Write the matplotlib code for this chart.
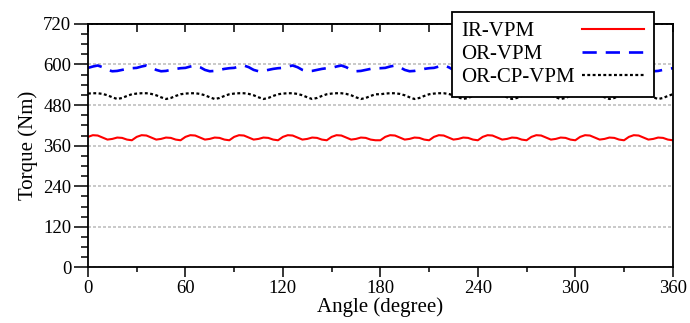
import numpy as np
import matplotlib
matplotlib.use("Agg")
import matplotlib.pyplot as plt
from matplotlib.ticker import MultipleLocator

# ------------------------------------------------------------
# 1. DATOS (paso de 3 grados)
# ------------------------------------------------------------
angulo = np.arange(0, 361, 3)

par_ir_vpm = [
    386, 391, 390, 384, 378, 380, 384, 383, 378, 376,
    386, 391, 390, 384, 378, 380, 384, 383, 378, 376,
    386, 391, 390, 384, 378, 380, 384, 383, 378, 376,
    386, 391, 390, 384, 378, 380, 384, 383, 378, 376,
    386, 391, 390, 384, 378, 380, 384, 383, 378, 376,
    386, 391, 390, 384, 378, 380, 384, 383, 378, 376,
    376, 386, 391, 390, 384, 378, 380, 384, 383, 378,
    376, 386, 391, 390, 384, 378, 380, 384, 383, 378,
    376, 386, 391, 390, 384, 378, 380, 384, 383, 378,
    376, 386, 391, 390, 384, 378, 380, 384, 383, 378,
    376, 386, 391, 390, 384, 378, 380, 384, 383, 378,
    376, 386, 391, 390, 384, 378, 380, 384, 383, 378,
    376,
]

par_or_vpm = [
    590, 594, 597, 592, 584, 580, 581, 584, 587, 589,
    590, 594, 597, 592, 584, 580, 581, 584, 587, 589,
    590, 594, 597, 592, 584, 580, 581, 584, 587, 589,
    590, 594, 597, 592, 584, 580, 581, 584, 587, 589,
    590, 594, 597, 592, 584, 580, 581, 584, 587, 589,
    590, 594, 597, 592, 584, 580, 581, 584, 587, 589,
    589, 590, 594, 597, 592, 584, 580, 581, 584, 587,
    589, 590, 594, 597, 592, 584, 580, 581, 584, 587,
    589, 590, 594, 597, 592, 584, 580, 581, 584, 587,
    589, 590, 594, 597, 592, 584, 580, 581, 584, 587,
    589, 590, 594, 597, 592, 584, 580, 581, 584, 587,
    589, 590, 594, 597, 592, 584, 580, 581, 584, 587,
    589,
]

par_or_cp_vpm = [
    514, 515, 515, 513, 509, 503, 498, 501, 507, 512,
    514, 515, 515, 513, 509, 503, 498, 501, 507, 512,
    514, 515, 515, 513, 509, 503, 498, 501, 507, 512,
    514, 515, 515, 513, 509, 503, 498, 501, 507, 512,
    514, 515, 515, 513, 509, 503, 498, 501, 507, 512,
    514, 515, 515, 513, 509, 503, 498, 501, 507, 512,
    512, 514, 515, 515, 513, 509, 503, 498, 501, 507,
    512, 514, 515, 515, 513, 509, 503, 498, 501, 507,
    512, 514, 515, 515, 513, 509, 503, 498, 501, 507,
    512, 514, 515, 515, 513, 509, 503, 498, 501, 507,
    512, 514, 515, 515, 513, 509, 503, 498, 501, 507,
    512, 514, 515, 515, 513, 509, 503, 498, 501, 507,
    512,
]

etiquetas = ["IR-VPM", "OR-VPM", "OR-CP-VPM"]

# ------------------------------------------------------------
# 2. FIGURA
# ------------------------------------------------------------
plt.rcParams["font.family"] = ["Liberation Serif", "DejaVu Serif"]

fig = plt.figure(figsize=(6.9, 3.23), dpi=100)
ax = fig.add_axes([0.1275, 0.172, 0.8475, 0.754])

ax.plot(angulo, par_ir_vpm, color="#ff0000", lw=1.5, label=etiquetas[0])
ax.plot(angulo, par_or_vpm, color="#0000ff", lw=1.9,
        linestyle=(0, (5.4, 3.4)), label=etiquetas[1])
ax.plot(angulo, par_or_cp_vpm, color="black", lw=1.6,
        linestyle=(0, (1.3, 1.1)), label=etiquetas[2])

ax.set_xlim(0, 360)
ax.set_ylim(0, 720)

ax.xaxis.set_major_locator(MultipleLocator(60))
ax.xaxis.set_minor_locator(MultipleLocator(30))
ax.yaxis.set_major_locator(MultipleLocator(120))
ax.yaxis.set_minor_locator(MultipleLocator(30))

ax.tick_params(axis="x", which="major", direction="out", length=7,
               width=1.1, labelsize=13.5, pad=2)
ax.tick_params(axis="x", which="minor", direction="out", length=3.6,
               width=1.1)
ax.tick_params(axis="y", which="major", direction="out", length=10,
               width=1.1, labelsize=13.5, pad=2)
ax.tick_params(axis="y", which="minor", direction="out", length=5,
               width=1.1)

# ticks interiores en el borde superior
sec = ax.secondary_xaxis("top")
sec.xaxis.set_major_locator(MultipleLocator(30))
sec.tick_params(direction="in", length=6, width=1.1, labeltop=False)
sec.spines["top"].set_linewidth(1.3)

for lado in ["left", "bottom", "right", "top"]:
    ax.spines[lado].set_linewidth(1.3)

ax.yaxis.grid(True, color="#c0c0c0", lw=1.2, linestyle=(0, (1.8, 1.2)))
ax.set_axisbelow(True)

ax.set_xlabel("Angle (degree)", fontsize=15, labelpad=0)
ax.set_ylabel("Torque (Nm)", fontsize=15, labelpad=4)

# ------------------------------------------------------------
# 3. LEYENDA (texto a la izquierda, linea a la derecha)
# ------------------------------------------------------------
leg = ax.legend(loc="upper right", bbox_to_anchor=(0.9675, 1.048),
                markerfirst=False, fontsize=15, handlelength=3.0,
                handletextpad=0.35, labelspacing=0.17, borderpad=0.45,
                borderaxespad=0, fancybox=False, framealpha=1,
                edgecolor="black")
leg.get_frame().set_linewidth(1.3)
leg.set_zorder(5)

fig.canvas.draw()
r = fig.canvas.get_renderer()
anchos = [t.get_window_extent(r).width * 72 / fig.dpi for t in leg.get_texts()]
columna = leg._legend_handle_box.get_children()[0]
for fila, w in zip(columna.get_children(), anchos):
    fila.sep = fila.sep + (max(anchos) - w)

fig.savefig("out.png", dpi=100)
